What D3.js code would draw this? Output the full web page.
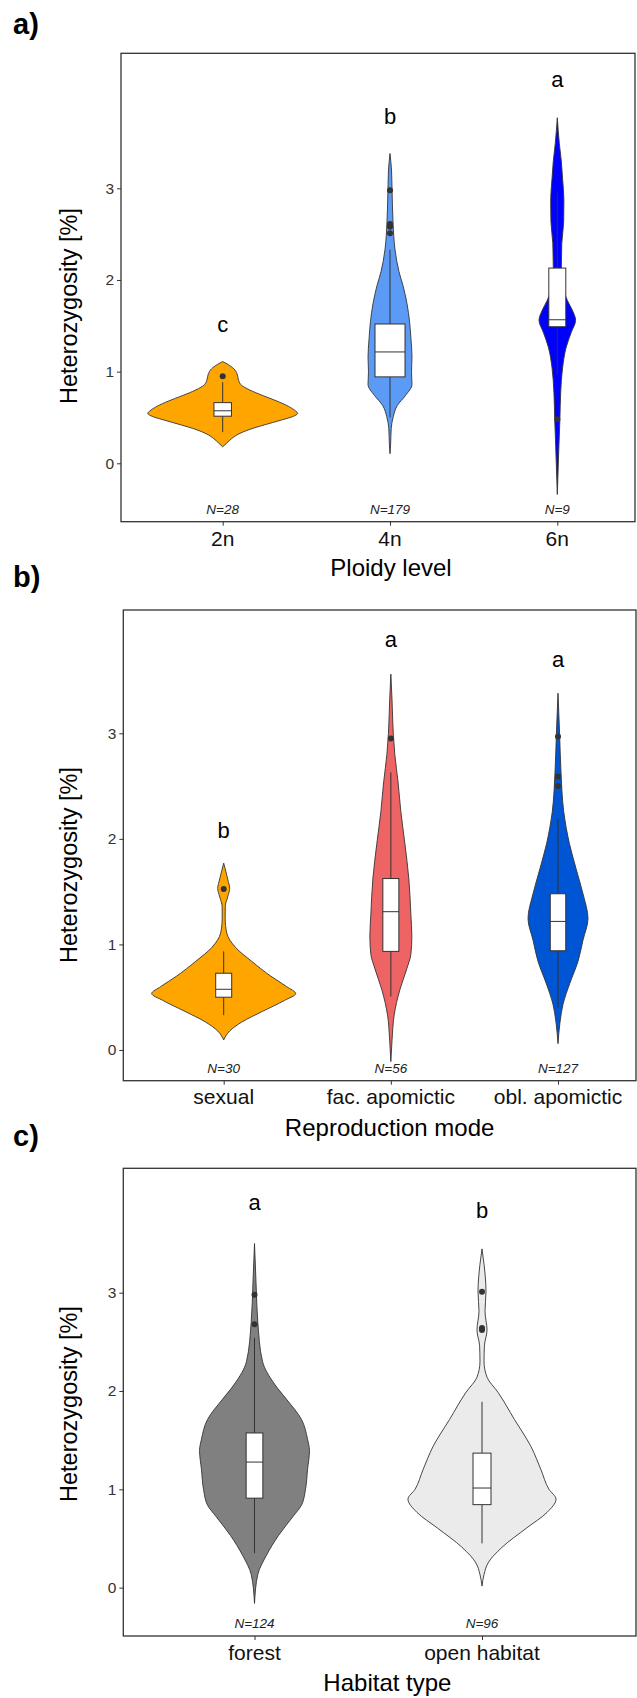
<!DOCTYPE html>
<html>
<head>
<meta charset="utf-8">
<script src="https://cdn.jsdelivr.net/npm/d3@7"></script>
<style>
  html, body { margin: 0; padding: 0; background: #fff; }
  svg { display: block; }
</style>
</head>
<body>
<div id="chart"></div>
<script>
// ---------------- DATA ----------------
// Panel a: ploidy level
const ploidyCats = ["2n", "4n", "6n"];
const ploidyN = [28, 179, 9];
const ploidyLetters = ["c", "b", "a"];
const ploidyLetterY = [1.43, 3.70, 4.10];
// [lower whisker, q1, median, q3, upper whisker]
const ploidyBox = [
  [0.34, 0.514, 0.573, 0.662, 0.884],
  [0.50, 0.943, 1.215, 1.52, 2.33],
  [0.97, 1.49, 1.566, 2.13, 2.95]
];
const ploidyOutliers = [[0.95], [2.51, 2.58, 2.61, 2.98], [0.48]];
// violin profiles: [value, relative density]
const ploidyViolin = [
  [[0.18,0],[0.22,0.053],[0.27,0.12],[0.32,0.213],[0.37,0.36],[0.42,0.56],[0.47,0.773],[0.51,0.933],[0.545,1],[0.57,0.973],[0.62,0.88],[0.68,0.72],[0.74,0.533],[0.80,0.36],[0.86,0.24],[0.92,0.207],[0.98,0.19],[1.03,0.15],[1.08,0.067],[1.11,0]],
  [[0.105,0],[0.2,0.008],[0.38,0.016],[0.51,0.044],[0.63,0.097],[0.74,0.207],[0.86,0.293],[1.0,0.287],[1.16,0.293],[1.35,0.28],[1.55,0.26],[1.74,0.227],[1.94,0.173],[2.09,0.12],[2.33,0.067],[2.64,0.04],[3.0,0.027],[3.2,0.02],[3.38,0]],
  [[-0.34,0],[0.18,0.021],[0.49,0.035],[0.77,0.045],[1.04,0.07],[1.27,0.12],[1.43,0.187],[1.56,0.244],[1.66,0.207],[1.78,0.133],[1.94,0.073],[2.1,0.053],[2.25,0.056],[2.4,0.06],[2.64,0.085],[2.87,0.088],[3.1,0.071],[3.3,0.053],[3.49,0.027],[3.77,0]]
];
const ploidyColors = ["#FFA500", "#5B9BF5", "#0000FF"];

// Panel b: reproduction mode
const reproCats = ["sexual", "fac. apomictic", "obl. apomictic"];
const reproN = [30, 56, 127];
const reproLetters = ["b", "a", "a"];
const reproLetterY = [2.01, 3.82, 3.63];
const reproBox = [
  [0.33, 0.50, 0.575, 0.727, 0.934],
  [0.507, 0.934, 1.31, 1.624, 2.63],
  [0.40, 0.94, 1.218, 1.48, 2.19]
];
const reproOutliers = [[1.526], [2.95], [2.50, 2.59, 2.97]];
const reproViolin = [
  [[0.095,0],[0.18,0.08],[0.264,0.24],[0.365,0.515],[0.47,0.813],[0.535,0.96],[0.60,0.84],[0.70,0.627],[0.84,0.373],[0.97,0.16],[1.11,0.04],[1.245,0.02],[1.36,0.021],[1.45,0.053],[1.53,0.08],[1.62,0.053],[1.77,0]],
  [[-0.11,0],[0.095,0.016],[0.33,0.044],[0.57,0.12],[0.77,0.213],[0.907,0.267],[1.076,0.28],[1.28,0.267],[1.62,0.24],[1.955,0.187],[2.26,0.133],[2.53,0.097],[2.8,0.053],[3.0,0.032],[3.31,0.016],[3.56,0]],
  [[0.06,0],[0.264,0.027],[0.433,0.067],[0.636,0.16],[0.84,0.267],[1.04,0.333],[1.245,0.4],[1.48,0.333],[1.72,0.24],[1.955,0.152],[2.26,0.076],[2.63,0.04],[3.0,0.021],[3.38,0]]
];
const reproColors = ["#FFA500", "#EE6363", "#0055D4"];

// Panel c: habitat type
const habitatCats = ["forest", "open habitat"];
const habitatN = [124, 96];
const habitatLetters = ["a", "b"];
const habitatLetterY = [3.84, 3.76];
const habitatBox = [
  [0.35, 0.91, 1.277, 1.573, 2.54],
  [0.45, 0.844, 1.013, 1.368, 1.89]
];
const habitatOutliers = [[2.68, 2.98], [2.62, 2.64, 3.01]];
const habitatViolin = [
  [[-0.16,0],[0.134,0.044],[0.33,0.16],[0.53,0.32],[0.725,0.515],[0.84,0.627],[1.0,0.68],[1.20,0.707],[1.395,0.733],[1.51,0.707],[1.71,0.627],[1.91,0.433],[2.07,0.267],[2.30,0.107],[2.70,0.044],[3.09,0.021],[3.50,0]],
  [[0.016,0],[0.134,0.027],[0.25,0.08],[0.41,0.267],[0.607,0.596],[0.765,0.867],[0.90,0.987],[1.0,0.893],[1.198,0.787],[1.435,0.653],[1.71,0.433],[1.987,0.213],[2.14,0.067],[2.30,0.027],[2.46,0.032],[2.62,0.067],[2.81,0.04],[3.01,0.053],[3.29,0.027],[3.445,0]]
];
const habitatColors = ["#808080", "#EBEBEB"];

const yTicks = [0, 1, 2, 3];

// ---------------- LAYOUT ----------------
const W = 637, H = 1698;
const FONT = "'Liberation Sans', Arial, Helvetica, sans-serif";
const DARK = "#333333";

const panels = [
  { tag: "a)", tagY: 33.5, title: "Ploidy level", cats: ploidyCats, n: ploidyN, letters: ploidyLetters, letterY: ploidyLetterY,
    box: ploidyBox, out: ploidyOutliers, violin: ploidyViolin, colors: ploidyColors,
    left: 121, right: 635, top: 53.3, bottom: 521.7, yDomain: [-0.637, 4.473],
    centers: [222.7, 557.3], boxW: [17.5, 30, 17], titleX: 391, yTitleY: 306,
    tickLabelY: 545.7, titleY: 575.7 },
  { tag: "b)", tagY: 587, title: "Reproduction mode", cats: reproCats, n: reproN, letters: reproLetters, letterY: reproLetterY,
    box: reproBox, out: reproOutliers, violin: reproViolin, colors: reproColors,
    left: 123.3, right: 636, top: 610, bottom: 1080.7, yDomain: [-0.291, 4.168],
    centers: [223.7, 558], boxW: [16, 16, 15.5], titleX: 389.6, yTitleY: 865,
    tickLabelY: 1103.6, titleY: 1135.7 },
  { tag: "c)", tagY: 1146, title: "Habitat type", cats: habitatCats, n: habitatN, letters: habitatLetters, letterY: habitatLetterY,
    box: habitatBox, out: habitatOutliers, violin: habitatViolin, colors: habitatColors,
    left: 123.3, right: 636, top: 1168.3, bottom: 1636, yDomain: [-0.492, 4.265],
    centers: [254.5, 482], boxW: [16.7, 18], titleX: 387.4, yTitleY: 1404,
    tickLabelY: 1659.8, titleY: 1690.8 }
];

const svg = d3.select("#chart").append("svg")
  .attr("width", W).attr("height", H)
  .style("font-family", FONT);

const wScale = d3.scaleLinear().domain([0, 1]).range([0, 75]);

panels.forEach(p => {
  const g = svg.append("g");
  const x = d3.scalePoint().domain(p.cats).range(p.centers);
  const y = d3.scaleLinear().domain(p.yDomain).range([p.bottom, p.top]);

  // panel tag
  g.append("text").attr("x", 13).attr("y", p.tagY)
    .attr("font-size", 29).attr("font-weight", "bold").attr("fill", "#000")
    .text(p.tag);

  // violins
  p.cats.forEach((c, i) => {
    const cx = x(c);
    const area = d3.area()
      .y(d => y(d[0]))
      .x0(d => cx - wScale(d[1]))
      .x1(d => cx + wScale(d[1]))
      .curve(d3.curveMonotoneY);
    g.append("path").datum(p.violin[i])
      .attr("d", area)
      .attr("fill", p.colors[i])
      .attr("stroke", DARK).attr("stroke-width", 0.9);

    // box plot
    const [lw, q1, med, q3, uw] = p.box[i];
    const bw = p.boxW[i];
    g.append("line").attr("x1", cx).attr("x2", cx)
      .attr("y1", y(uw)).attr("y2", y(q3))
      .attr("stroke", DARK).attr("stroke-width", 1);
    g.append("line").attr("x1", cx).attr("x2", cx)
      .attr("y1", y(q1)).attr("y2", y(lw))
      .attr("stroke", DARK).attr("stroke-width", 1);
    g.append("rect")
      .attr("x", cx - bw / 2).attr("width", bw)
      .attr("y", y(q3)).attr("height", y(q1) - y(q3))
      .attr("fill", "#fff").attr("stroke", DARK).attr("stroke-width", 1);
    g.append("line").attr("x1", cx - bw / 2).attr("x2", cx + bw / 2)
      .attr("y1", y(med)).attr("y2", y(med))
      .attr("stroke", DARK).attr("stroke-width", 1);
    g.selectAll(null).data(p.out[i]).enter().append("circle")
      .attr("cx", cx).attr("cy", d => y(d)).attr("r", 3)
      .attr("fill", DARK);

    // significance letter
    g.append("text").attr("x", cx).attr("y", y(p.letterY[i]))
      .attr("text-anchor", "middle").attr("font-size", 22).attr("fill", "#000")
      .text(p.letters[i]);

    // N label
    g.append("text").attr("x", cx).attr("y", p.bottom - 8)
      .attr("text-anchor", "middle").attr("font-size", 13.5)
      .attr("font-style", "italic").attr("fill", "#222")
      .text("N=" + p.n[i]);
  });

  // panel border
  g.append("rect")
    .attr("x", p.left).attr("y", p.top)
    .attr("width", p.right - p.left).attr("height", p.bottom - p.top)
    .attr("fill", "none").attr("stroke", DARK).attr("stroke-width", 1.3);

  // y axis
  const yAxis = g.append("g").attr("transform", `translate(${p.left},0)`)
    .call(d3.axisLeft(y).tickValues(yTicks).tickSize(4).tickPadding(3).tickFormat(d3.format("d")));
  yAxis.select(".domain").remove();
  yAxis.selectAll(".tick line").attr("stroke", DARK);
  yAxis.selectAll(".tick text").attr("font-size", 15.5).attr("fill", "#333").style("font-family", FONT);

  // x axis ticks
  const xAxis = g.append("g").attr("transform", `translate(0,${p.bottom})`)
    .call(d3.axisBottom(x).tickSize(4).tickPadding(3));
  xAxis.select(".domain").remove();
  xAxis.selectAll(".tick line").attr("stroke", DARK);
  xAxis.selectAll(".tick text").remove();

  // x tick labels
  g.selectAll(null).data(p.cats).enter().append("text")
    .attr("x", d => x(d)).attr("y", p.tickLabelY)
    .attr("text-anchor", "middle").attr("font-size", 21).attr("fill", "#111")
    .text(d => d);

  // axis titles
  g.append("text").attr("x", p.titleX).attr("y", p.titleY)
    .attr("text-anchor", "middle").attr("font-size", 24).attr("fill", "#000")
    .text(p.title);
  g.append("text")
    .attr("transform", `translate(77,${p.yTitleY}) rotate(-90)`)
    .attr("text-anchor", "middle").attr("font-size", 23.5).attr("fill", "#000")
    .text("Heterozygosity [%]");
});
</script>
</body>
</html>
